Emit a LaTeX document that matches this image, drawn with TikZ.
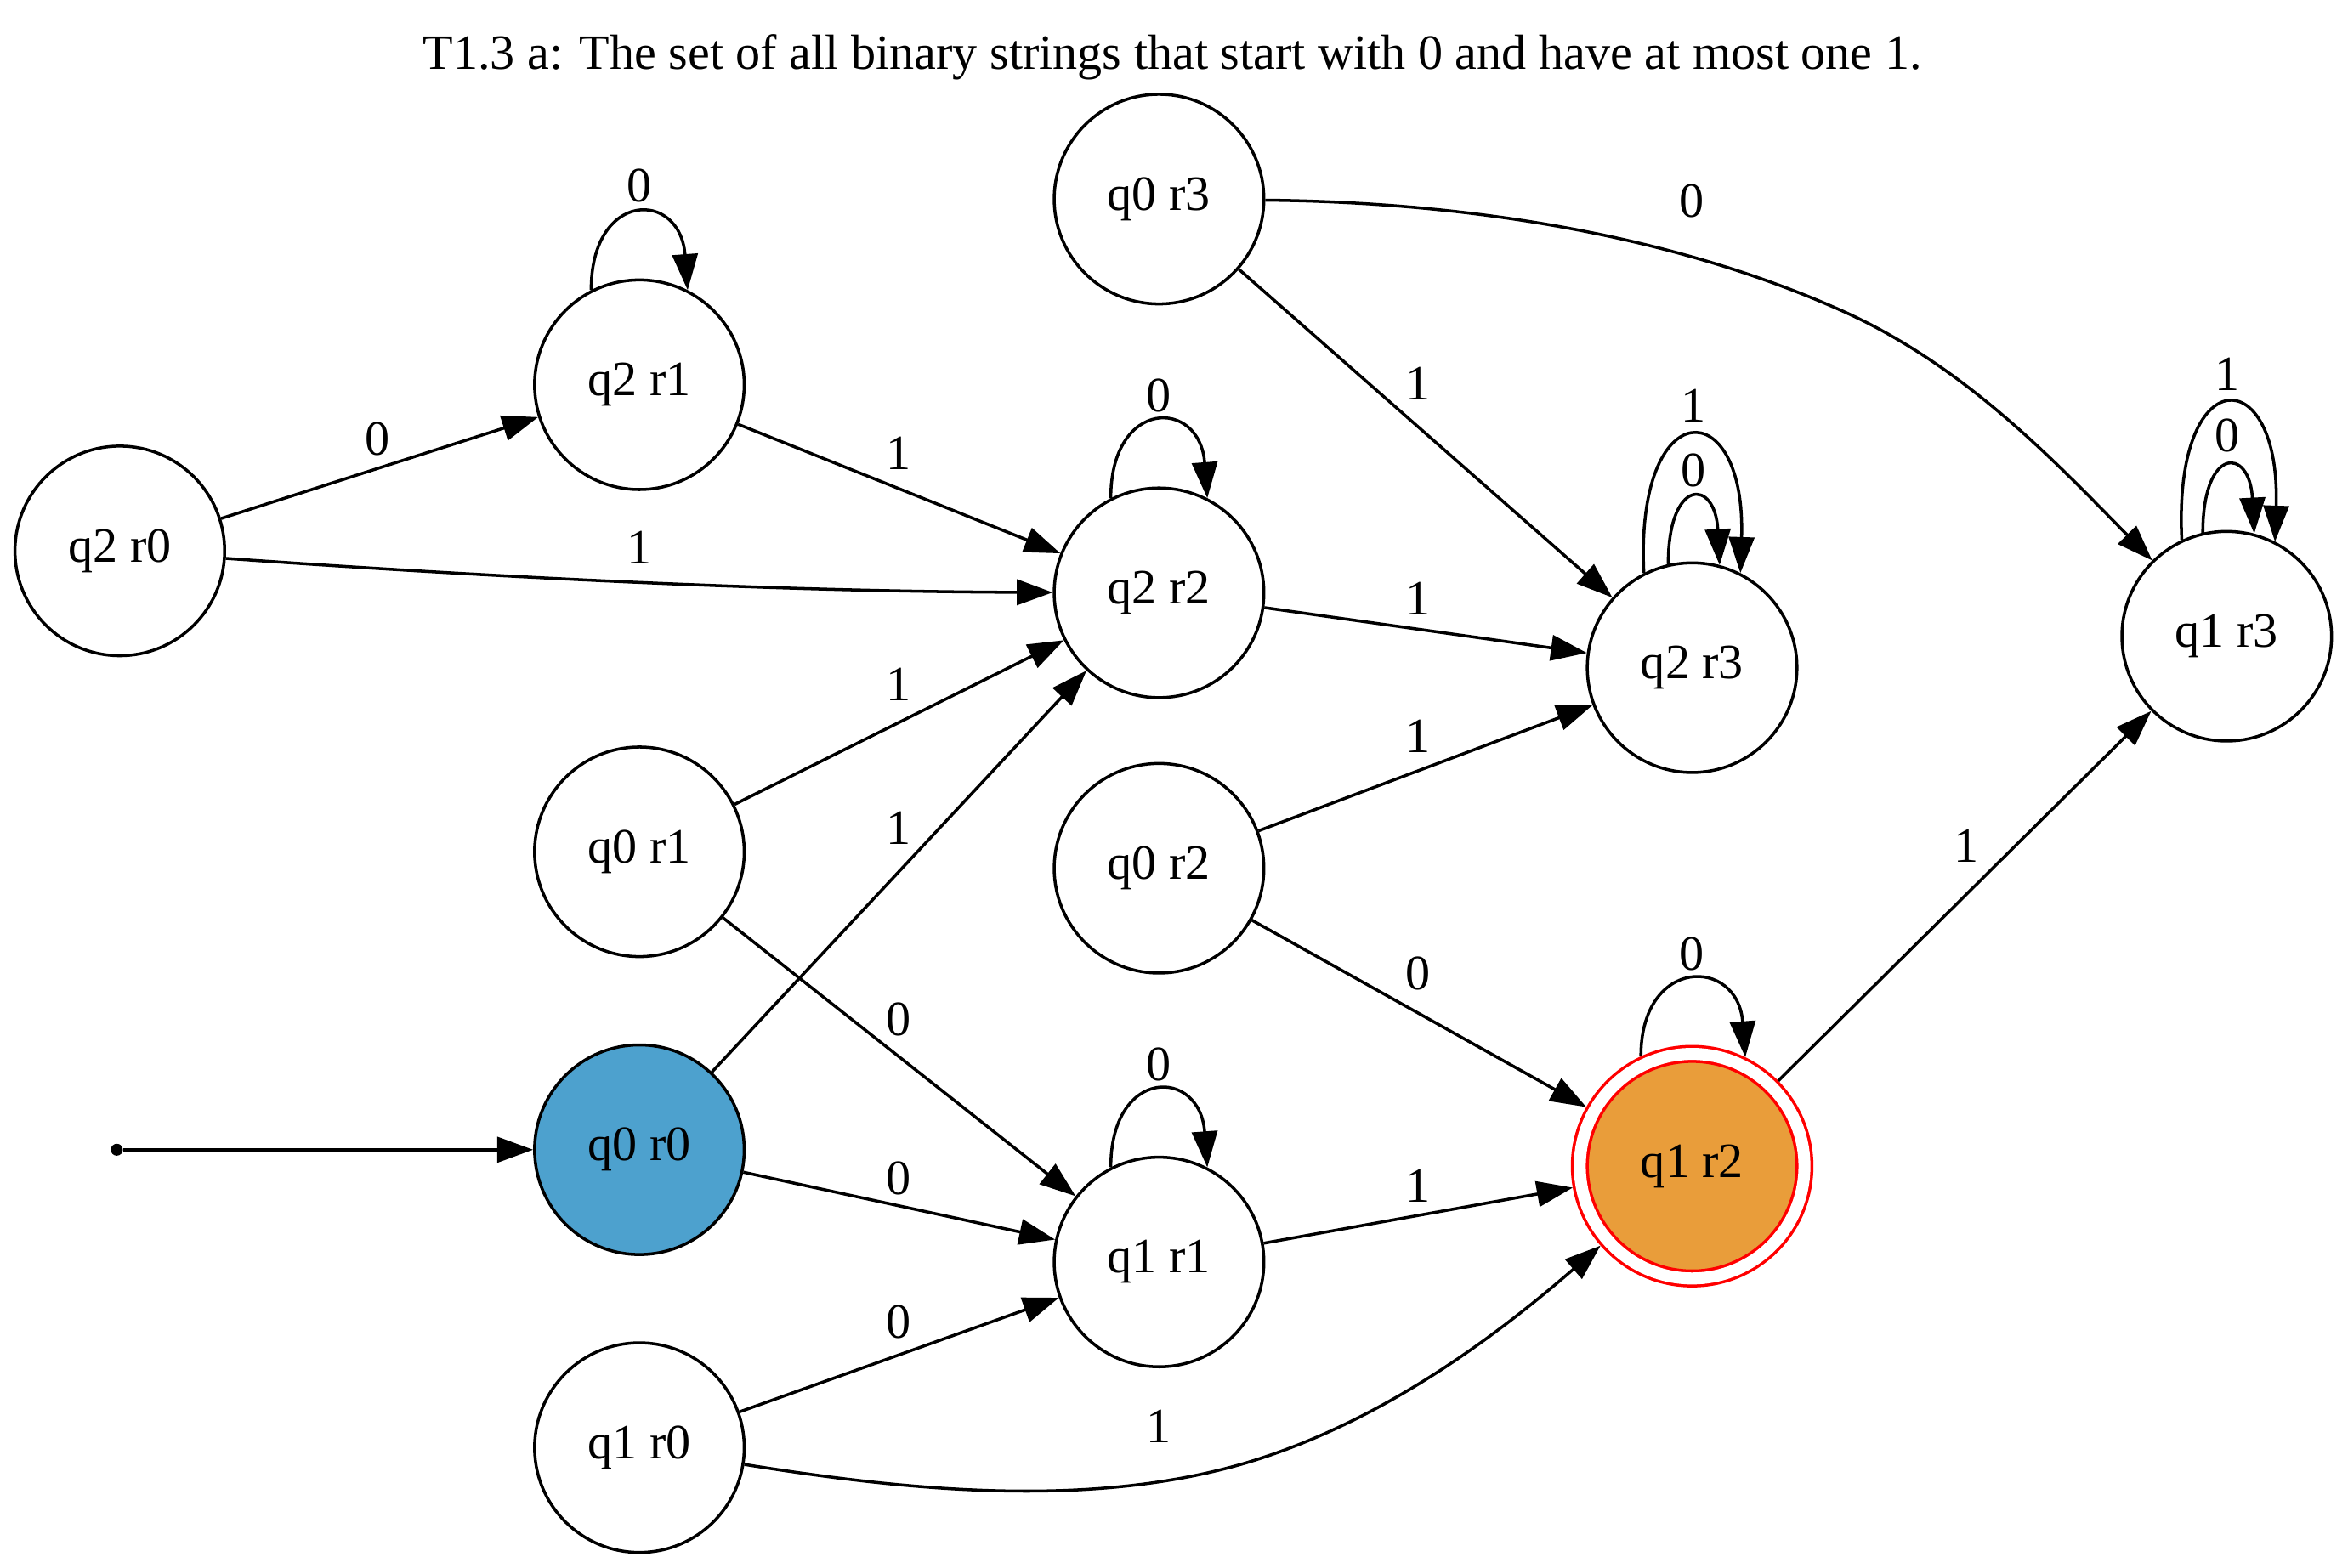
\documentclass[tikz,border=0pt]{standalone}
\usepackage{fontspec}
\setmainfont{Liberation Serif}
\usetikzlibrary{arrows.meta}
\definecolor{startblue}{RGB}{77,161,206}
\definecolor{acceptorange}{RGB}{233,157,58}
\begin{document}
\begin{tikzpicture}[x=0.5pt,y=-0.5pt,
  every node/.style={font=\fontsize{16.5}{20}\selectfont},
  state/.style={circle,draw,line width=1pt,minimum size=70pt,inner sep=0pt},
  initstate/.style={state,fill=startblue},
  accstate/.style={circle,draw=red,line width=1pt,double=white,double distance=4pt,fill=acceptorange,minimum size=75pt,inner sep=0pt,outer sep=3pt},
  startpt/.style={circle,fill,inner sep=0pt,minimum size=4pt},
  arr/.style={-{Triangle[length=12pt,width=8.5pt]},line width=1pt},
  lbl/.style={inner sep=0pt},
]
\useasboundingbox (0,0) rectangle (1568,1047.4);

\node[lbl] (title) at (783,38) {T1.3 a: The set of all binary strings that start with 0 and have at most one 1.};

% states
\node[state] (q2r0) at (80,368) {q2 r0};
\node[state] (q2r1) at (427,257) {q2 r1};
\node[state] (q0r3) at (774,133) {q0 r3};
\node[state] (q2r2) at (774,396) {q2 r2};
\node[state] (q2r3) at (1130,446) {q2 r3};
\node[state] (q1r3) at (1487,425) {q1 r3};
\node[state] (q0r1) at (427,569) {q0 r1};
\node[state] (q0r2) at (774,580) {q0 r2};
\node[initstate] (q0r0) at (427,768) {q0 r0};
\node[state] (q1r1) at (774,843) {q1 r1};
\node[accstate] (q1r2) at (1130,779) {q1 r2};
\node[state] (q1r0) at (427,967) {q1 r0};
\node[startpt] (s) at (78,768) {};

% start arrow
\draw[arr] (s) -- (q0r0);

% straight transitions
\draw[arr] (q2r0) -- (q2r1);
\draw[arr] (q2r1) -- (q2r2);
\draw[arr] (q0r3) -- (q2r3);
\draw[arr] (q2r2) -- (q2r3);
\draw[arr] (q0r1) -- (q2r2);
\draw[arr] (q0r0) -- (q2r2);
\draw[arr] (q0r2) -- (q2r3);
\draw[arr] (q0r2) -- (q1r2);
\draw[arr] (q1r2) -- (q1r3);
\draw[arr] (q0r1) -- (q1r1);
\draw[arr] (q0r0) -- (q1r1);
\draw[arr] (q1r1) -- (q1r2);
\draw[arr] (q1r0) -- (q1r1);

% curved transitions
\draw[arr] (q2r0) .. controls (335,386) and (520,395) .. (q2r2);
\coordinate (m1) at (1231,208);
\draw[arr] (q0r3) .. controls (974,135) and (1113,155) .. (m1)
                  .. controls (1313,245) and (1373,309) .. (q1r3);
\coordinate (m2) at (833.7,976.7);
\draw[arr] (q1r0) .. controls (605,995.5) and (728.3,1008.3) .. (m2)
                  .. controls (920.7,950.4) and (995.8,895.4) .. (q1r2);

% self loops
\draw[arr] (q2r1.117) .. controls +(0,-67) and +(-5,-67) .. (q2r1.63);
\draw[arr] (q2r2.117) .. controls +(0,-67) and +(-5,-67) .. (q2r2.63);
\draw[arr] (q1r1.117) .. controls +(0,-67) and +(-5,-67) .. (q1r1.63);
\draw[arr] (q1r2.115) .. controls +(0,-67) and +(-5,-67) .. (q1r2.64);
\draw[arr] (q2r3.117) .. controls +(-6,-121) and +(4,-121) .. (q2r3.63);
\draw[arr] (q2r3.103) .. controls +(0,-58) and +(-3,-58) .. (q2r3.75);
\draw[arr] (q1r3.115) .. controls +(-6,-121) and +(4,-121) .. (q1r3.63);
\draw[arr] (q1r3.103) .. controls +(0,-58) and +(-3,-58) .. (q1r3.75);

% labels
\node[lbl] (l01) at (252,293) {0};
\node[lbl] (l02) at (427,124) {0};
\node[lbl] (l03) at (600,303) {1};
\node[lbl] (l04) at (427,366) {1};
\node[lbl] (l05) at (774,264) {0};
\node[lbl] (l06) at (947,256) {1};
\node[lbl] (l07) at (1130,134) {0};
\node[lbl] (l08) at (1131,271) {1};
\node[lbl] (l09) at (1131,314) {0};
\node[lbl] (l10) at (1487.5,250) {1};
\node[lbl] (l11) at (1487.5,291) {0};
\node[lbl] (l12) at (947,400) {1};
\node[lbl] (l13) at (600,457) {1};
\node[lbl] (l14) at (600,553) {1};
\node[lbl] (l15) at (947,492) {1};
\node[lbl] (l16) at (947,650) {0};
\node[lbl] (l17) at (1313,565) {1};
\node[lbl] (l18) at (1130,637) {0};
\node[lbl] (l19) at (600,681) {0};
\node[lbl] (l20) at (774,711) {0};
\node[lbl] (l21) at (600,787) {0};
\node[lbl] (l22) at (947,792) {1};
\node[lbl] (l23) at (600,883) {0};
\node[lbl] (l24) at (774,953) {1};
\end{tikzpicture}
\end{document}
